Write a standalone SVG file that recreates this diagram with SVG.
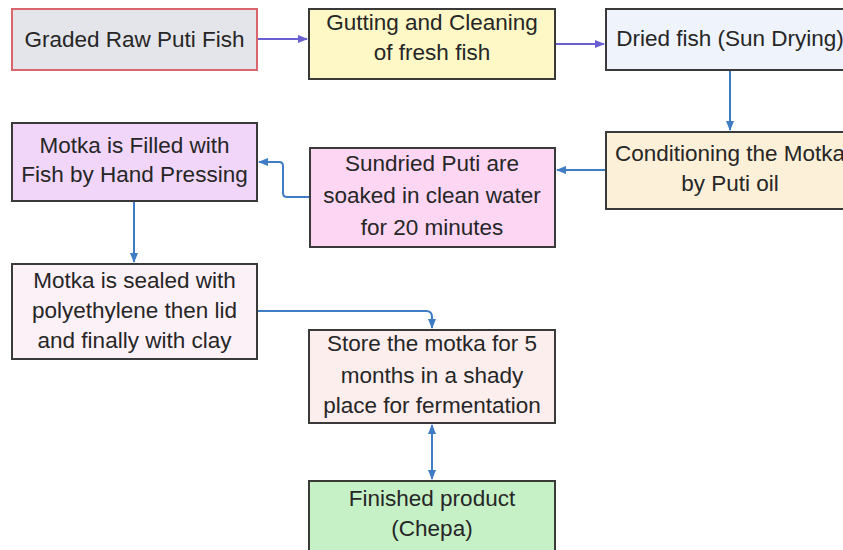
<svg xmlns="http://www.w3.org/2000/svg" width="843" height="550" viewBox="0 0 843 550">
<style>
.box{stroke:#3a3a3a;stroke-width:2}
.t{font-family:"Liberation Sans",Arial,sans-serif;font-size:22.5px;fill:#262626;text-anchor:middle}
.cp{fill:none;stroke:#6a5fd0;stroke-width:2}
.cb{fill:none;stroke:#3f7cc4;stroke-width:2}
</style>
<defs>
<marker id="ap" viewBox="0 0 10 10" refX="9" refY="5" markerWidth="5" markerHeight="5" orient="auto-start-reverse"><path d="M0,1 L10,5 L0,9 z" fill="#6a5fd0"/></marker>
<marker id="ab" viewBox="0 0 10 10" refX="9" refY="5" markerWidth="5" markerHeight="5" orient="auto-start-reverse"><path d="M0,1 L10,5 L0,9 z" fill="#3f7cc4"/></marker>
</defs>
<rect width="843" height="550" fill="#ffffff"/>
<g id="connectors">
<path class="cp" d="M257,39 H307" marker-end="url(#ap)"/>
<path class="cp" d="M555,44 H604" marker-end="url(#ap)"/>
<path class="cb" d="M730,71 V130" marker-end="url(#ab)"/>
<path class="cb" d="M606,170 H557" marker-end="url(#ab)"/>
<path class="cb" d="M310,197 H287 Q283,197 283,193 V166 Q283,162 279,162 H259" marker-end="url(#ab)"/>
<path class="cb" d="M134,201 V262" marker-end="url(#ab)"/>
<path class="cb" d="M257,311 H426 Q432,311 432,317 V328" marker-end="url(#ab)"/>
<path class="cb" d="M432,425 V479" marker-start="url(#ab)" marker-end="url(#ab)"/>
</g>
<g id="n1"><rect class="box" x="12" y="9" width="245" height="61" fill="#e4e5ea" style="stroke:#d9666c"/><text class="t" x="134.5" y="47">Graded Raw Puti Fish</text></g>
<g id="n2"><rect class="box" x="309" y="9" width="246" height="70" fill="#fdf8c6"/><text class="t" x="432" y="30">Gutting and Cleaning</text><text class="t" x="432" y="60">of fresh fish</text></g>
<g id="n3"><rect class="box" x="606" y="9" width="250" height="61" fill="#eef3fc"/><text class="t" x="730" y="46">Dried fish (Sun Drying)</text></g>
<g id="n4"><rect class="box" x="606" y="132" width="250" height="77" fill="#fdf0d8"/><text class="t" x="730" y="161">Conditioning the Motka</text><text class="t" x="730" y="191">by Puti oil</text></g>
<g id="n5"><rect class="box" x="310" y="148" width="245" height="99" fill="#fcd6f3"/><text class="t" x="432" y="171">Sundried Puti are</text><text class="t" x="432" y="203">soaked in clean water</text><text class="t" x="432" y="235">for 20 minutes</text></g>
<g id="n6"><rect class="box" x="12" y="123" width="245" height="78" fill="#f1d6f9"/><text class="t" x="134.5" y="153">Motka is Filled with</text><text class="t" x="134.5" y="182">Fish by Hand Pressing</text></g>
<g id="n7"><rect class="box" x="12" y="264" width="245" height="95" fill="#fdf1f8"/><text class="t" x="134.5" y="288">Motka is sealed with</text><text class="t" x="134.5" y="318">polyethylene then lid</text><text class="t" x="134.5" y="348">and finally with clay</text></g>
<g id="n8"><rect class="box" x="309" y="330" width="246" height="93" fill="#fdeeee"/><text class="t" x="432" y="351">Store the motka for 5</text><text class="t" x="432" y="383">months in a shady</text><text class="t" x="432" y="413">place for fermentation</text></g>
<g id="n9"><rect class="box" x="309" y="481" width="246" height="80" fill="#c6f1c6"/><text class="t" x="432" y="506">Finished product</text><text class="t" x="432" y="536">(Chepa)</text></g>
</svg>
